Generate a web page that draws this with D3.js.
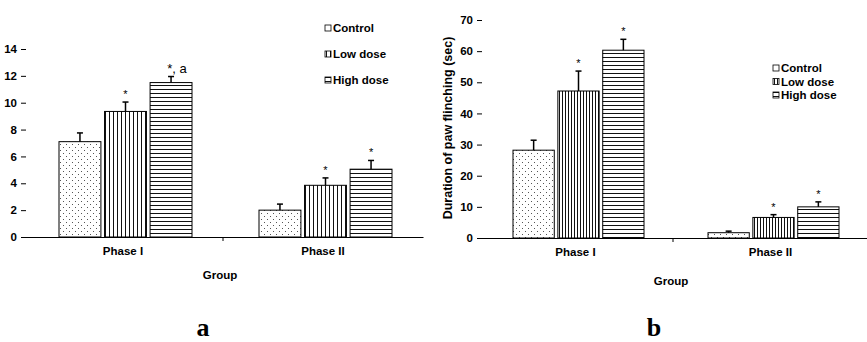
<!DOCTYPE html>
<html>
<head>
<meta charset="utf-8">
<script src="https://cdn.jsdelivr.net/npm/d3@7"></script>
<style>
  body { margin: 0; background: #fff; }
  svg { display: block; }
  text { font-family: "Liberation Sans", Arial, sans-serif; font-weight: bold; fill: #000; }
  .axis path, .axis line { stroke: #000; }
</style>
</head>
<body>
<svg width="867" height="342"></svg>
<script>
// categories
var groups = ["Phase I", "Phase II"];
var series = ["Control", "Low dose", "High dose"];

// panel a values (mean, upper error)
var aControl = [7.1, 2.0], aControlErr = [0.65, 0.45];
var aLow = [9.35, 3.85], aLowErr = [0.7, 0.55];
var aHigh = [11.5, 5.05], aHighErr = [0.45, 0.65];
var aMarks = [["", "*", "*, a"], ["", "*", "*"]];
var aTicks = [0, 2, 4, 6, 8, 10, 12, 14];

// panel b values
var bControl = [28.2, 1.7], bControlErr = [3.2, 0.5];
var bLow = [47.2, 6.6], bLowErr = [6.4, 0.9];
var bHigh = [60.3, 10.0], bHighErr = [3.5, 1.6];
var bMarks = [["", "*", "*"], ["", "*", "*"]];
var bTicks = [0, 10, 20, 30, 40, 50, 60, 70];

var svg = d3.select("svg");
var defs = svg.append("defs");

function makePatterns(id, dotStep, vStep, hStep) {
    var p = defs.append("pattern").attr("id", id + "-dots")
        .attr("patternUnits", "userSpaceOnUse")
        .attr("width", dotStep * 2).attr("height", dotStep * 2);
    p.append("rect").attr("width", dotStep * 2).attr("height", dotStep * 2).attr("fill", "#fff");
    p.append("rect").attr("x", 0).attr("y", 0).attr("width", 1).attr("height", 1).attr("fill", "#555");
    p.append("rect").attr("x", dotStep).attr("y", dotStep).attr("width", 1).attr("height", 1).attr("fill", "#555");

    var v = defs.append("pattern").attr("id", id + "-vert")
        .attr("patternUnits", "userSpaceOnUse")
        .attr("width", vStep).attr("height", 4);
    v.append("rect").attr("width", vStep).attr("height", 4).attr("fill", "#fff");
    v.append("rect").attr("x", 1).attr("width", 1).attr("height", 4).attr("fill", "#111");

    var h = defs.append("pattern").attr("id", id + "-horz")
        .attr("patternUnits", "userSpaceOnUse")
        .attr("width", 4).attr("height", hStep);
    h.append("rect").attr("width", 4).attr("height", hStep).attr("fill", "#fff");
    h.append("rect").attr("y", 1).attr("width", 4).attr("height", 1).attr("fill", "#111");
}

function drawPanel(o) {
    makePatterns(o.id, o.dotStep, o.vStep, o.hStep);
    var fills = ["url(#" + o.id + "-dots)", "url(#" + o.id + "-vert)", "url(#" + o.id + "-horz)"];

    var y = d3.scaleLinear().domain([0, o.ticks[o.ticks.length - 1]]).range([o.y0, o.y1]);
    var x0 = d3.scaleBand().domain(groups).range([o.xStart, o.xEnd]);
    var x1 = d3.scaleBand().domain(series).range(o.inner).paddingInner(0.08);

    var g = svg.append("g");

    // y axis (ticks only, no spine)
    var ya = g.append("g")
        .attr("class", "axis")
        .attr("transform", "translate(" + o.yAxisX + ",0)")
        .call(d3.axisLeft(y).tickValues(o.ticks).tickSize(5).tickPadding(4));
    ya.select(".domain").remove();
    ya.selectAll("text").style("font-size", "11.5px").style("font-family", "Liberation Sans, Arial, sans-serif");

    var data = [];
    groups.forEach(function (grp, gi) {
        series.forEach(function (s, si) {
            data.push({group: grp, series: s, si: si, value: o.values[si][gi], err: o.errs[si][gi], mark: o.marks[gi][si]});
        });
    });

    var bars = g.selectAll(".bar").data(data).enter().append("g").attr("class", "bar");

    bars.append("rect")
        .attr("x", function (d) { return x0(d.group) + x1(d.series); })
        .attr("y", function (d) { return y(d.value); })
        .attr("width", x1.bandwidth())
        .attr("height", function (d) { return y(0) - y(d.value); })
        .attr("fill", function (d) { return fills[d.si]; })
        .attr("stroke", "#000")
        .attr("stroke-width", 1);

    bars.append("line")
        .attr("x1", function (d) { return x0(d.group) + x1(d.series) + x1.bandwidth() / 2; })
        .attr("x2", function (d) { return x0(d.group) + x1(d.series) + x1.bandwidth() / 2; })
        .attr("y1", function (d) { return y(d.value); })
        .attr("y2", function (d) { return y(d.value + d.err); })
        .attr("stroke", "#000").attr("stroke-width", 1.5);

    bars.append("line")
        .attr("x1", function (d) { return x0(d.group) + x1(d.series) + x1.bandwidth() / 2 - 3; })
        .attr("x2", function (d) { return x0(d.group) + x1(d.series) + x1.bandwidth() / 2 + 3; })
        .attr("y1", function (d) { return y(d.value + d.err); })
        .attr("y2", function (d) { return y(d.value + d.err); })
        .attr("stroke", "#000").attr("stroke-width", 1.5);

    bars.append("text")
        .attr("x", function (d) { return x0(d.group) + x1(d.series) + x1.bandwidth() / 2 + (d.mark.length > 1 ? 6 : 0); })
        .attr("y", function (d) { return y(d.value + d.err) - 4; })
        .attr("text-anchor", "middle")
        .style("font-size", function (d) { return d.mark.length > 1 ? "13px" : "11px"; })
        .style("font-weight", "normal")
        .text(function (d) { return d.mark; });

    // x axis
    var xa = g.append("g")
        .attr("class", "axis")
        .attr("transform", "translate(0," + o.y0 + ")")
        .call(d3.axisBottom(x0).tickSize(0).tickSizeOuter(0).tickPadding(10));
    xa.selectAll("text").style("font-size", "11.5px").style("font-family", "Liberation Sans, Arial, sans-serif");
    xa.append("line")
        .attr("x1", x0("Phase II")).attr("x2", x0("Phase II"))
        .attr("y1", 0).attr("y2", 4)
        .attr("stroke", "#000");

    g.append("text")
        .attr("x", o.groupX).attr("y", o.groupY)
        .attr("text-anchor", "middle")
        .style("font-size", "11.5px")
        .text("Group");

    if (o.yTitle) {
        g.append("text")
            .attr("transform", "translate(" + o.yTitleX + "," + o.yTitleY + ") rotate(-90)")
            .attr("text-anchor", "middle")
            .style("font-size", "12.5px")
            .text(o.yTitle);
    }

    // legend
    var lg = g.selectAll(".legend").data(series).enter().append("g")
        .attr("transform", function (d, i) { return "translate(" + o.legX + "," + (o.legY + i * o.legStep) + ")"; });
    lg.append("rect")
        .attr("x", 0).attr("y", -3).attr("width", 6).attr("height", 6)
        .attr("fill", function (d, i) { return i === 0 ? "#fff" : fills[i]; })
        .attr("stroke", "#000").attr("stroke-width", 0.8);
    lg.append("text")
        .attr("x", 8).attr("y", 4)
        .style("font-size", o.legFont)
        .text(function (d) { return d; });

    svg.append("text")
        .attr("x", o.letterX).attr("y", 336)
        .attr("text-anchor", "middle")
        .style("font-family", "Liberation Serif, Times New Roman, serif")
        .style("font-size", "26px")
        .text(o.letter);
}

drawPanel({
    id: "pa", dotStep: 3, vStep: 4, hStep: 4,
    values: [aControl, aLow, aHigh], errs: [aControlErr, aLowErr, aHighErr],
    marks: aMarks, ticks: aTicks,
    y0: 237, y1: 49, xStart: 23, xEnd: 423, inner: [36, 169], yAxisX: 26,
    groupX: 220, groupY: 279,
    legX: 325, legY: 28, legStep: 26, legFont: "11.5px",
    letter: "a", letterX: 203
});

drawPanel({
    id: "pb", dotStep: 3, vStep: 3, hStep: 4,
    values: [bControl, bLow, bHigh], errs: [bControlErr, bLowErr, bHighErr],
    marks: bMarks, ticks: bTicks,
    y0: 238, y1: 20, xStart: 478, xEnd: 868, inner: [35, 166], yAxisX: 482,
    groupX: 671, groupY: 285,
    yTitle: "Duration of paw flinching (sec)", yTitleX: 452, yTitleY: 128,
    legX: 773, legY: 68, legStep: 13.5, legFont: "11.5px",
    letter: "b", letterX: 654
});
</script>
</body>
</html>
